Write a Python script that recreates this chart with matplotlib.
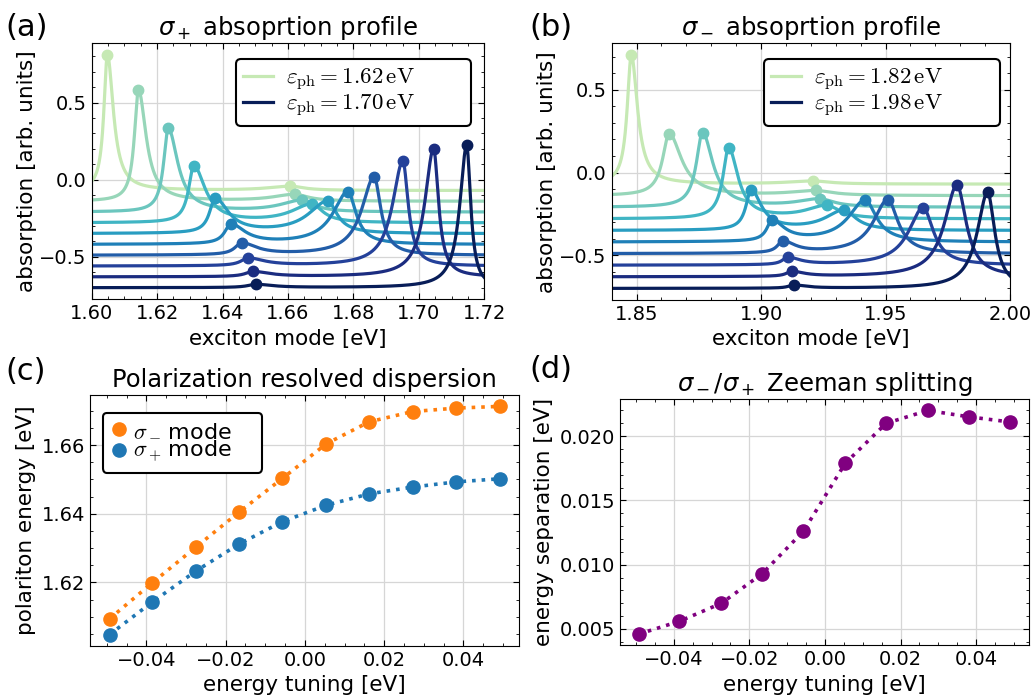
import numpy as np
import matplotlib
matplotlib.use('Agg')
import matplotlib.pyplot as plt

# Polariton energies vs. energy tuning (lower branch, both helicities)
tuning = [-0.0493, -0.0385, -0.0274, -0.0166, -0.0057, 0.0054, 0.0162, 0.0272, 0.0382, 0.0491]
sigma_minus_energy = [1.6094, 1.6199, 1.6304, 1.6405, 1.6503, 1.6604, 1.6668, 1.6698, 1.6708, 1.6713]
sigma_plus_energy = [1.6048, 1.6143, 1.6234, 1.6312, 1.6377, 1.6425, 1.6458, 1.6478, 1.6493, 1.6502]

# sigma+ absorption spectra, one per photon energy (1.62 ... 1.70 eV)
plus_offset = [-0.07, -0.14, -0.21, -0.28, -0.35, -0.42, -0.49, -0.56, -0.63, -0.70]
plus_lp_top = [0.808, 0.580, 0.330, 0.086, -0.125, -0.293, -0.414, -0.511, -0.597, -0.679]
plus_up_pos = [1.6606, 1.6620, 1.6643, 1.6673, 1.6721, 1.6783, 1.6863, 1.6951, 1.7045, 1.7146]
plus_up_top = [-0.043, -0.097, -0.136, -0.162, -0.142, -0.080, 0.017, 0.119, 0.200, 0.222]
plus_lp_wl = [0.0013, 0.0015, 0.0017, 0.0019, 0.0020, 0.0022, 0.0024, 0.0026, 0.0028, 0.0030]
plus_lp_wr = [0.0022, 0.0028, 0.0035, 0.0042, 0.0048, 0.0052, 0.0055, 0.0060, 0.0060, 0.0060]
plus_up_wl = [0.0080, 0.0080, 0.0080, 0.0075, 0.0070, 0.0055, 0.0045, 0.0038, 0.0032, 0.0025]
plus_up_wr = [0.0050, 0.0050, 0.0045, 0.0040, 0.0035, 0.0030, 0.0025, 0.0020, 0.0018, 0.0015]

# sigma- absorption spectra, one per photon energy (1.82 ... 1.98 eV)
minus_offset = [-0.07, -0.14, -0.21, -0.28, -0.35, -0.42, -0.49, -0.56, -0.63, -0.70]
minus_lp_pos = [1.8479, 1.8631, 1.8765, 1.8870, 1.8960, 1.9044, 1.9087, 1.9107, 1.9123, 1.9131]
minus_lp_top = [0.709, 0.233, 0.239, 0.145, -0.110, -0.297, -0.420, -0.516, -0.600, -0.681]
minus_up_pos = [1.9209, 1.9219, 1.9235, 1.9263, 1.9332, 1.9418, 1.9509, 1.9651, 1.9787, 1.9910]
minus_up_top = [-0.052, -0.112, -0.163, -0.203, -0.231, -0.169, -0.165, -0.213, -0.076, -0.120]
minus_lp_wl = [0.0020, 0.0032, 0.0030, 0.0028, 0.0025, 0.0025, 0.0025, 0.0025, 0.0025, 0.0025]
minus_lp_wr = [0.0030, 0.0060, 0.0050, 0.0045, 0.0050, 0.0060, 0.0060, 0.0060, 0.0060, 0.0060]
minus_up_wl = [0.0120, 0.0120, 0.0110, 0.0100, 0.0090, 0.0080, 0.0070, 0.0070, 0.0060, 0.0050]
minus_up_wr = [0.0080, 0.0080, 0.0070, 0.0065, 0.0060, 0.0055, 0.0050, 0.0050, 0.0045, 0.0035]

plt.rcParams.update({
    'xtick.direction': 'in', 'ytick.direction': 'in',
    'xtick.top': True, 'ytick.right': True,
    'xtick.minor.visible': True, 'ytick.minor.visible': True,
    'xtick.major.size': 4.5, 'ytick.major.size': 4.5,
    'xtick.minor.size': 2.3, 'ytick.minor.size': 2.3,
    'xtick.labelsize': 14, 'ytick.labelsize': 14,
    'axes.labelsize': 15.5, 'axes.titlesize': 17.5,
    'axes.grid': True, 'grid.color': '#d6d6d6', 'grid.linewidth': 0.9,
})


def lorentz(x, x0, amp, wl, wr):
    w = np.where(x < x0, wl, wr)
    return amp / (1 + ((x - x0) / w) ** 2)


def spectrum(x, i, off, lp, lpt, up, upt, lwl, lwr, uwl, uwr):
    return (off[i] + lorentz(x, lp[i], lpt[i] - off[i], lwl[i], lwr[i])
            + lorentz(x, up[i], upt[i] - off[i], uwl[i], uwr[i]))


def boxed_legend(ax, anchor, loc, size, **kw):
    leg = ax.legend(loc=loc, bbox_to_anchor=anchor, mode='expand',
                    prop={'size': size, 'math_fontfamily': 'cm'},
                    framealpha=1, edgecolor='k', borderaxespad=0, **kw)
    leg.get_frame().set_linewidth(1.5)
    return leg


def draw_profiles(ax, xlim, off, lp, lpt, up, upt, lwl, lwr, uwl, uwr, labels, anchor):
    colors = plt.cm.YlGnBu(np.linspace(0.25, 1.0, len(off)))
    x = np.linspace(xlim[0], xlim[1], 2000)
    for i in range(len(off)):
        args = (off, lp, lpt, up, upt, lwl, lwr, uwl, uwr)
        y = spectrum(x, i, *args)
        pk = np.array([lp[i], up[i]])
        ax.plot(x, y, color=colors[i], lw=2.3, label=labels.get(i))
        ax.plot(pk, spectrum(pk, i, *args), 'o', color=colors[i], ms=7.5)
    ax.set_xlim(xlim)
    ax.set_xlabel('exciton mode [eV]')
    ax.set_ylabel('absorption [arb. units]', labelpad=2)
    boxed_legend(ax, anchor, 'upper right', 16.5, handlelength=1.3,
                 handletextpad=0.6, borderpad=0.3, labelspacing=-0.04)


fig = plt.figure(figsize=(10.36, 6.95), dpi=100)
ax_a = fig.add_axes([0.0885, 0.5694, 0.3790, 0.3683])
ax_b = fig.add_axes([0.5904, 0.5683, 0.3845, 0.3693])
ax_c = fig.add_axes([0.0869, 0.0705, 0.4141, 0.3612])
ax_d = fig.add_axes([0.5985, 0.0715, 0.3948, 0.3540])

draw_profiles(ax_a, (1.60, 1.72), plus_offset, sigma_plus_energy, plus_lp_top,
              plus_up_pos, plus_up_top, plus_lp_wl, plus_lp_wr, plus_up_wl, plus_up_wr,
              {0: r'$\varepsilon_{\rm ph} = 1.62\,{\rm eV}$',
               9: r'$\varepsilon_{\rm ph} = 1.70\,{\rm eV}$'},
              (0.3676, 0.5, 0.5985, 0.4387))
ax_a.set_xticks([1.60, 1.62, 1.64, 1.66, 1.68, 1.70, 1.72])
ax_a.set_title(r'$\sigma_+$ absoprtion profile')

draw_profiles(ax_b, (1.84, 2.00), minus_offset, minus_lp_pos, minus_lp_top,
              minus_up_pos, minus_up_top, minus_lp_wl, minus_lp_wr, minus_up_wl, minus_up_wr,
              {0: r'$\varepsilon_{\rm ph} = 1.82\,{\rm eV}$',
               9: r'$\varepsilon_{\rm ph} = 1.98\,{\rm eV}$'},
              (0.3824, 0.5, 0.5926, 0.439))
ax_b.set_xticks([1.85, 1.90, 1.95, 2.00])
ax_b.xaxis.set_major_formatter('{x:.2f}')
ax_b.set_title(r'$\sigma_-$ absoprtion profile')

# (c) dispersion of both helicities
ax_c.plot(tuning, sigma_minus_energy, ':', color='tab:orange', lw=2.6)
ax_c.plot(tuning, sigma_plus_energy, ':', color='tab:blue', lw=2.6)
ax_c.plot(tuning, sigma_minus_energy, 'o', color='tab:orange', ms=9.5, label=r'$\sigma_-\,$mode')
ax_c.plot(tuning, sigma_plus_energy, 'o', color='tab:blue', ms=9.5, label=r'$\sigma_+\,$mode')
ax_c.set_title('Polarization resolved dispersion')
ax_c.set_xlabel('energy tuning [eV]')
ax_c.set_ylabel('polariton energy [eV]')
boxed_legend(ax_c, (0.0303, 0.5, 0.371, 0.428), 'upper left', 16,
             handlelength=0.7, handletextpad=0.3, borderpad=0.35, labelspacing=-0.08)

# (d) splitting between the two helicities
separation = np.array(sigma_minus_energy) - np.array(sigma_plus_energy)
ax_d.plot(tuning, separation, ':', color='purple', lw=2.6, marker='o', ms=9.5)
ax_d.set_title(r'$\sigma_-/\sigma_+$ Zeeman splitting')
ax_d.set_xlabel('energy tuning [eV]')
ax_d.set_ylabel('energy separation [eV]')

for lab, xp, yp in [('(a)', 0.005, 0.961), ('(b)', 0.511, 0.961),
                    ('(c)', 0.005, 0.466), ('(d)', 0.511, 0.469)]:
    fig.text(xp, yp, lab, fontsize=22, va='center', ha='left')

fig.savefig('out.png', dpi=100)
